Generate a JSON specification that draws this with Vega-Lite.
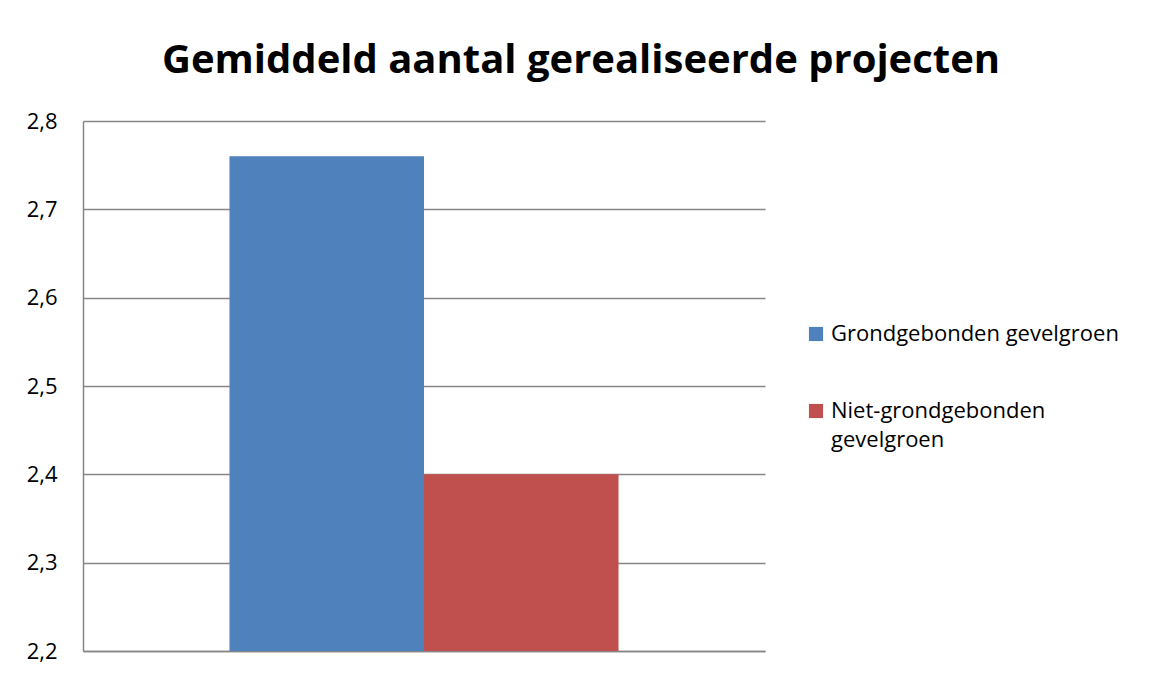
{
  "$schema": "https://vega.github.io/schema/vega-lite/v6.json",
  "width": 682,
  "height": 530,
  "autosize": {"type": "none"},
  "padding": {"left": 83, "top": 121, "right": 387, "bottom": 24},
  "background": "white",
  "config": {
    "locale": {"number": {"decimal": ",", "thousands": ".", "grouping": [3], "currency": ["€", ""]}},
    "view": {"stroke": null},
    "font": "Open Sans",
    "style": {"guide-label": {"lineHeight": 29}}
  },
  "title": {
    "text": "Gemiddeld aantal gerealiseerde projecten",
    "font": "Open Sans",
    "fontSize": 40,
    "fontWeight": "bold",
    "color": "#000000",
    "anchor": "middle",
    "dx": 157,
    "baseline": "alphabetic",
    "offset": -3
  },
  "data": {
    "values": [
      {"reeks": "Grondgebonden gevelgroen", "waarde": 2.76},
      {"reeks": "Niet-grondgebonden gevelgroen", "waarde": 2.4}
    ]
  },
  "mark": {"type": "bar", "clip": true},
  "encoding": {
    "x": {
      "field": "reeks",
      "type": "nominal",
      "sort": null,
      "scale": {"paddingInner": 0, "paddingOuter": 0.753},
      "axis": {"title": null, "labels": false, "ticks": false, "domainColor": "#868686", "domainWidth": 1.5}
    },
    "y": {
      "field": "waarde",
      "type": "quantitative",
      "scale": {"domain": [2.2, 2.8], "zero": false, "nice": false},
      "axis": {
        "title": null,
        "values": [2.2, 2.3, 2.4, 2.5, 2.6, 2.7, 2.8],
        "format": ".1f",
        "ticks": false,
        "labelPadding": 26,
        "labelFontSize": 22,
        "labelColor": "#000000",
        "labelFont": "Open Sans",
        "domainColor": "#868686",
        "domainWidth": 1.5,
        "gridColor": "#868686",
        "gridWidth": 1.5,
        "gridOpacity": 1
      }
    },
    "color": {
      "field": "reeks",
      "type": "nominal",
      "sort": null,
      "scale": {"range": ["#4F81BD", "#C0504D"]},
      "legend": {
        "title": null,
        "orient": "none",
        "legendX": 722,
        "legendY": 202,
        "symbolType": "square",
        "symbolSize": 200,
        "symbolStrokeWidth": 0,
        "labelFontSize": 22,
        "labelColor": "#000000",
        "labelFont": "Open Sans",
        "labelOffset": 4,
        "rowPadding": 55,
        "labelLimit": 400,
        "labelExpr": "datum.label == 'Niet-grondgebonden gevelgroen' ? ['Niet-grondgebonden', 'gevelgroen'] : datum.label"
      }
    }
  }
}
